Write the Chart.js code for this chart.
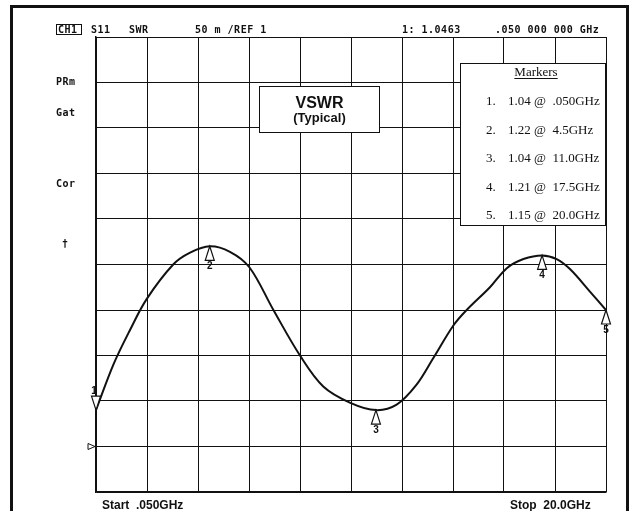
<!DOCTYPE html>
<html>
<head>
<meta charset="utf-8">
<title>VSWR (Typical)</title>
<script src="https://cdn.jsdelivr.net/npm/chart.js@4.4.1/dist/chart.umd.min.js"></script>
<style>
  html, body { margin: 0; padding: 0; background: #fff; }
  #wrap { position: relative; width: 637px; height: 511px; }
</style>
</head>
<body>
<div id="wrap"><canvas id="swr" width="637" height="511"></canvas></div>
<script>
// S11 sweep, SWR format, 50 m/div, REF 1
const freqGHz = [0.05, 0.73, 1.38, 2.03, 3.07, 3.73, 4.5, 5.29, 6.05, 6.99, 8.03, 8.94, 10.0,
  11.0, 11.81, 12.59, 13.24, 14.03, 14.55, 15.46, 16.12, 16.77, 17.5, 18.07, 18.59, 19.38, 20.0];
const swr = [1.04, 1.09, 1.128, 1.162, 1.2, 1.213, 1.22, 1.214, 1.197, 1.15, 1.1, 1.066, 1.048,
  1.04, 1.046, 1.068, 1.097, 1.133, 1.15, 1.175, 1.196, 1.206, 1.21, 1.206, 1.195, 1.17, 1.15];

// marker table
const markerNo = [1, 2, 3, 4, 5];
const markerGHz = [0.05, 4.5, 11.0, 17.5, 20.0];
const markerSWR = [1.04, 1.22, 1.04, 1.21, 1.15];
const markerFreqText = ['.050GHz', '4.5GHz', '11.0GHz', '17.5GHz', '20.0GHz'];

// sweep / display settings
const startGHz = 0.05;
const stopGHz = 20.0;
const refValue = 1;
const perDiv = 0.05;
const refDivFromBottom = 1;
const divisions = 10;

const yMin = refValue - refDivFromBottom * perDiv;
const yMax = yMin + divisions * perDiv;
const xTicks = Array.from({ length: divisions + 1 }, (_, i) => startGHz + i * (stopGHz - startGHz) / divisions);
const yTicks = Array.from({ length: divisions + 1 }, (_, i) => yMin + i * perDiv);

const ink = '#111';

function triangle(ctx, x, y, w, h, down) {
  ctx.beginPath();
  ctx.moveTo(x, y);
  ctx.lineTo(x - w / 2, down ? y - h : y + h);
  ctx.lineTo(x + w / 2, down ? y - h : y + h);
  ctx.closePath();
  ctx.fillStyle = '#fff';
  ctx.fill();
  ctx.stroke();
}

const analyzerScreen = {
  id: 'analyzerScreen',
  beforeDraw(chart) {
    const ctx = chart.ctx;
    ctx.save();
    ctx.fillStyle = '#fff';
    ctx.fillRect(0, 0, chart.width, chart.height);

    // outer frame
    ctx.strokeStyle = ink;
    ctx.lineWidth = 3;
    ctx.strokeRect(11.5, 6.5, 616, 520);

    // status line
    ctx.fillStyle = ink;
    ctx.font = 'bold 10px "DejaVu Sans Mono"';
    ctx.letterSpacing = '0.5px';
    ctx.textBaseline = 'alphabetic';
    ctx.textAlign = 'left';
    ctx.fillText('CH1', 58, 33);
    ctx.lineWidth = 1;
    ctx.strokeRect(56.5, 24.5, 25, 10);
    ctx.fillText('S11', 91, 33);
    ctx.fillText('SWR', 129, 33);
    ctx.fillText('50 m /REF 1', 195, 33);
    ctx.fillText('1: 1.0463', 402, 33);
    ctx.fillText('.050 000 000 GHz', 495, 33);

    // softkey annotations
    ctx.fillText('PRm', 56, 85);
    ctx.fillText('Gat', 56, 116);
    ctx.fillText('Cor', 56, 187);
    ctx.fillText('\u2020', 62, 247);
    ctx.restore();
  },
  afterDraw(chart) {
    const ctx = chart.ctx;
    const xs = chart.scales.x;
    const ys = chart.scales.y;
    const area = chart.chartArea;
    ctx.save();
    ctx.strokeStyle = ink;
    ctx.fillStyle = ink;

    // reference line indicator
    const yRef = ys.getPixelForValue(refValue);
    ctx.lineWidth = 1;
    ctx.beginPath();
    ctx.moveTo(area.left - 1, yRef);
    ctx.lineTo(area.left - 8, yRef - 3);
    ctx.lineTo(area.left - 8, yRef + 3);
    ctx.closePath();
    ctx.fillStyle = '#fff';
    ctx.fill();
    ctx.stroke();

    // markers on the trace
    ctx.lineWidth = 1.2;
    markerNo.forEach((n, i) => {
      const x = xs.getPixelForValue(markerGHz[i]);
      const y = ys.getPixelForValue(markerSWR[i]);
      const down = n === 1;
      triangle(ctx, x, y, 9, 14, down);
      ctx.fillStyle = ink;
      ctx.font = 'bold 10px "Liberation Sans"';
      ctx.textAlign = 'center';
      if (down) {
        ctx.textBaseline = 'bottom';
        ctx.fillText(String(n), x - 2, y - 14);
      } else {
        ctx.textBaseline = 'top';
        ctx.fillText(String(n), x, y + 15);
      }
    });

    // title box
    ctx.lineWidth = 1;
    ctx.fillStyle = '#fff';
    ctx.fillRect(259.5, 86.5, 120, 46);
    ctx.strokeRect(259.5, 86.5, 120, 46);
    ctx.fillStyle = ink;
    ctx.textAlign = 'center';
    ctx.textBaseline = 'alphabetic';
    ctx.font = 'bold 16px "Liberation Sans"';
    ctx.fillText('VSWR', 319.5, 108);
    ctx.font = 'bold 13px "Liberation Sans"';
    ctx.fillText('(Typical)', 319.5, 122);

    // marker list box
    ctx.fillStyle = '#fff';
    ctx.fillRect(460.5, 63.5, 145, 162);
    ctx.strokeRect(460.5, 63.5, 145, 162);
    ctx.fillStyle = ink;
    ctx.font = '13px "Liberation Serif"';
    ctx.fillText('Markers', 536, 76);
    const uw = ctx.measureText('Markers').width;
    ctx.fillRect(536 - uw / 2, 78, uw, 1);
    ctx.textAlign = 'left';
    markerNo.forEach((n, i) => {
      const by = 105 + i * 28.5;
      ctx.fillText(n + '.', 486, by);
      ctx.fillText(markerSWR[i].toFixed(2) + ' @  ' + markerFreqText[i], 508, by);
    });

    // sweep limits
    ctx.font = 'bold 12px "Liberation Sans"';
    ctx.fillText('Start  .' + startGHz.toFixed(3).split('.')[1] + 'GHz', 102, 509);
    ctx.fillText('Stop  ' + stopGHz.toFixed(1) + 'GHz', 510, 509);
    ctx.restore();
  }
};

const gridOpts = { color: ink, lineWidth: 1, drawTicks: false };

new Chart(document.getElementById('swr'), {
  type: 'line',
  data: {
    datasets: [{
      label: 'S11 SWR',
      data: freqGHz.map((f, i) => ({ x: f, y: swr[i] })),
      borderColor: ink,
      borderWidth: 2,
      pointRadius: 0,
      tension: 0.35,
      fill: false
    }]
  },
  options: {
    responsive: false,
    animation: false,
    layout: { padding: { left: 96, top: 37, right: 31, bottom: 19 } },
    plugins: {
      legend: { display: false },
      tooltip: { enabled: false }
    },
    scales: {
      x: {
        type: 'linear',
        min: startGHz,
        max: stopGHz,
        afterBuildTicks: (s) => { s.ticks = xTicks.map(v => ({ value: v })); },
        ticks: { display: false },
        grid: gridOpts,
        border: { color: ink, width: 1.5 }
      },
      y: {
        type: 'linear',
        min: yMin,
        max: yMax,
        afterBuildTicks: (s) => { s.ticks = yTicks.map(v => ({ value: v })); },
        ticks: { display: false },
        grid: gridOpts,
        border: { color: ink, width: 1.5 }
      }
    }
  },
  plugins: [analyzerScreen]
});
</script>
</body>
</html>
